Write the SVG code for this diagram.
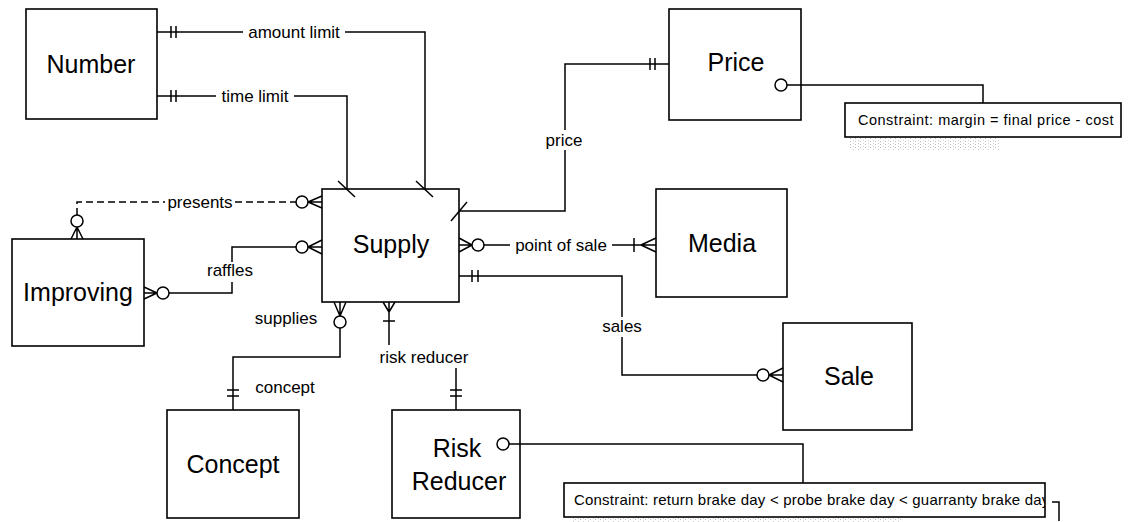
<svg xmlns="http://www.w3.org/2000/svg" width="1129" height="522" viewBox="0 0 1129 522">
  <style>
    .box { fill: #fff; stroke: #000; stroke-width: 1.6; }
    .name { font-family: "Liberation Sans", Arial, sans-serif; font-size: 25px; text-anchor: middle; dominant-baseline: central; fill: #000; }
    .lbl { font-family: "Liberation Sans", Arial, sans-serif; font-size: 17px; text-anchor: middle; dominant-baseline: central; fill: #000; }
    .note { font-family: "Liberation Sans", Arial, sans-serif; font-size: 14.5px; letter-spacing: 0.5px; fill: #000; }
    .note-lg { font-family: "Liberation Sans", Arial, sans-serif; font-size: 15px; letter-spacing: 0.2px; fill: #000; }
    .ln { fill: none; stroke: #000; stroke-width: 1.5; }
    .dash { stroke-dasharray: 7 4; }
    .ring { fill: #fff; stroke: #000; stroke-width: 1.5; }
    .grain { fill: url(#grain); opacity: 0.7; }
  </style>
  <defs>
    <pattern id="grain" width="5" height="3" patternUnits="userSpaceOnUse">
      <rect x="0" y="0" width="1" height="1" fill="#999"/>
      <rect x="3" y="2" width="1" height="1" fill="#bbb"/>
    </pattern>
    <clipPath id="clipNote2">
      <rect x="564" y="483" width="481" height="34"/>
    </clipPath>
  </defs>

  <rect width="1129" height="522" fill="#fff"/>

  <!-- entities -->
  <g id="number">
    <rect class="box" x="26" y="9" width="131" height="110"/>
    <text class="name" x="91" y="64">Number</text>
  </g>
  <g id="price">
    <rect class="box" x="669" y="9" width="132" height="111"/>
    <text class="name" x="736" y="62">Price</text>
  </g>
  <g id="supply">
    <rect class="box" x="322" y="189" width="137" height="113"/>
    <text class="name" x="391" y="244">Supply</text>
  </g>
  <g id="media">
    <rect class="box" x="656" y="189" width="131" height="108"/>
    <text class="name" x="722" y="243">Media</text>
  </g>
  <g id="improving">
    <rect class="box" x="12" y="239" width="132" height="107"/>
    <text class="name" x="78" y="292">Improving</text>
  </g>
  <g id="sale">
    <rect class="box" x="783" y="323" width="129" height="107"/>
    <text class="name" x="849" y="376">Sale</text>
  </g>
  <g id="concept">
    <rect class="box" x="167" y="410" width="132" height="108"/>
    <text class="name" x="233" y="464">Concept</text>
  </g>
  <g id="risk-reducer">
    <rect class="box" x="392" y="410" width="128" height="108"/>
    <text class="name" x="457" y="448">Risk</text>
    <text class="name" x="459" y="481">Reducer</text>
  </g>

  <!-- constraint notes -->
  <g id="note-price">
    <rect class="grain" x="850" y="138" width="150" height="12"/>
    <rect class="box" x="845" y="103" width="276" height="34"/>
    <text class="note" x="858" y="125">Constraint: margin = final price - cost</text>
  </g>
  <g id="note-risk">
    <rect class="grain" x="572" y="518" width="330" height="4"/>
    <rect class="box" x="564" y="483" width="481" height="34"/>
    <text class="note-lg" x="574" y="505" clip-path="url(#clipNote2)">Constraint: return brake day &lt; probe brake day &lt; guarranty brake day</text>
    <path class="ln" d="M1052,502 H1059 V521"/>
  </g>

  <!-- relationships -->
  <g id="connectors">
    <!-- amount limit: Number -> Supply -->
    <path class="ln" d="M157,32 H243 M345,32 H425 V189"/>
    <path class="ln" d="M171,26 V38 M176,26 V38"/>
    <path class="ln" d="M416,181 L433,197"/>
    <text class="lbl" x="294" y="32">amount limit</text>

    <!-- time limit: Number -> Supply -->
    <path class="ln" d="M157,96 H216 M294,96 H347 V189"/>
    <path class="ln" d="M171,90 V102 M176,90 V102"/>
    <path class="ln" d="M338,181 L355,197"/>
    <text class="lbl" x="255" y="96">time limit</text>

    <!-- price: Supply -> Price -->
    <path class="ln" d="M459,211 H565 V150 M565,130 V64 H669"/>
    <path class="ln" d="M650,58 V70 M655,58 V70"/>
    <path class="ln" d="M451,221 L467,202"/>
    <text class="lbl" x="564" y="140">price</text>

    <!-- price constraint link -->
    <circle class="ring" cx="781" cy="85" r="6"/>
    <path class="ln" d="M787,85 H983 V103"/>

    <!-- point of sale: Supply -> Media -->
    <path class="ln" d="M472,245 L459,238 M472,245 L459,245 M472,245 L459,252"/>
    <circle class="ring" cx="478" cy="245" r="6"/>
    <path class="ln" d="M484,245 H510 M612,245 H641"/>
    <path class="ln" d="M634,238 V252"/>
    <path class="ln" d="M641,245 L656,238 M641,245 L656,245 M641,245 L656,252"/>
    <text class="lbl" x="561" y="245">point of sale</text>

    <!-- sales: Supply -> Sale -->
    <path class="ln" d="M459,276 H622 V317 M622,337 V375 H757"/>
    <path class="ln" d="M472,270 V282 M478,270 V282"/>
    <circle class="ring" cx="763" cy="375" r="6"/>
    <path class="ln" d="M769,375 L783,368 M769,375 L783,375 M769,375 L783,382"/>
    <text class="lbl" x="622" y="326">sales</text>

    <!-- presents: Improving -> Supply (dashed) -->
    <path class="ln dash" d="M77,215 V202 H165 M235,202 H296"/>
    <circle class="ring" cx="302" cy="202" r="6"/>
    <path class="ln" d="M308,202 L322,196 M308,202 L322,202 M308,202 L322,208"/>
    <circle class="ring" cx="77" cy="221" r="6"/>
    <path class="ln" d="M77,227 L71,239 M77,227 L77,239 M77,227 L83,239"/>
    <text class="lbl" x="200" y="202">presents</text>

    <!-- raffles: Improving -> Supply -->
    <path class="ln" d="M157,293 L144,287 M157,293 L144,293 M157,293 L144,299"/>
    <circle class="ring" cx="163" cy="293" r="6"/>
    <path class="ln" d="M169,293 H232 V282 M232,262 V247 H296"/>
    <circle class="ring" cx="302" cy="247" r="6"/>
    <path class="ln" d="M308,247 L322,240 M308,247 L322,247 M308,247 L322,254"/>
    <text class="lbl" x="230" y="270">raffles</text>

    <!-- supplies / concept: Supply -> Concept -->
    <path class="ln" d="M340,316 L334,302 M340,316 L340,302 M340,316 L346,302"/>
    <circle class="ring" cx="340" cy="322" r="6"/>
    <path class="ln" d="M340,328 V357 H233 V410"/>
    <path class="ln" d="M227,390 H239 M227,396 H239"/>
    <text class="lbl" x="286" y="318">supplies</text>
    <text class="lbl" x="285" y="387">concept</text>

    <!-- risk reducer: Supply -> Risk Reducer -->
    <path class="ln" d="M389,312 L383,302 M389,312 L389,302 M389,312 L395,302"/>
    <path class="ln" d="M389,312 V345"/>
    <path class="ln" d="M383,321 H395"/>
    <path class="ln" d="M456,368 V410"/>
    <path class="ln" d="M450,390 H462 M450,396 H462"/>
    <text class="lbl" x="424" y="357">risk reducer</text>

    <!-- risk reducer constraint link -->
    <circle class="ring" cx="503" cy="444" r="6"/>
    <path class="ln" d="M509,444 H803 V483"/>
  </g>
</svg>
